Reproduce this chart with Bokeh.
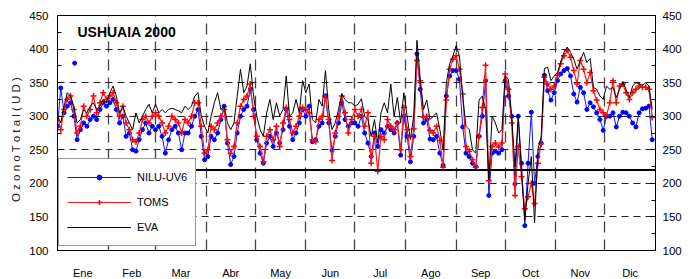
from bokeh.plotting import figure
from bokeh.models import FixedTicker, LinearAxis, Span, Label, Legend, LegendItem, ColumnDataSource
from bokeh.embed import file_html
from bokeh.resources import INLINE

month_names = ["Ene", "Feb", "Mar", "Abr", "May", "Jun", "Jul", "Ago", "Sep", "Oct", "Nov", "Dic"]
month_days = [31, 29, 31, 30, 31, 30, 31, 31, 30, 31, 30, 31]
y_ticks = [100, 150, 200, 250, 300, 350, 400, 450]
y_minor = [125, 175, 225, 275, 325, 375, 425]
threshold = 220

days = list(range(0, 366, 2))

nilu = [
    285, 342, 305, 315, 320, 300, 265, 280, 290, 285, 295, 300, 295, 310, 320, 315,
    320, 325, 310, 290, 300, 270, 275, 250, 248, 265, 280, 290, 275, 285,
    280, 285, 270, 245, 265, 280, 285, 275, 250, 275, 275, 285, 300, 310, 270, 235,
    240, 270, 265, 275, 295, 315, 260, 228, 240, 275, 300, 310, 315, 340, 310,
    265, 245, 230, 260, 270, 255, 275, 260, 280, 310, 285, 265, 275, 290, 310,
    300, 315, 262, 265, 285, 290, 330, 290, 249, 270, 290, 320, 295, 285, 290,
    290, 285, 300, 275, 260, 240, 275, 255, 280, 275, 285, 280, 275, 290, 242, 300,
    270, 232, 270, 393, 340, 290, 295, 266, 265, 270, 245, 227, 330, 360, 368,
    368, 355, 284, 245, 240, 230, 225, 270, 300, 353, 182, 245, 248, 245, 250,
    353, 330, 300, 199, 300, 230, 137, 230, 306, 200, 240, 260, 361, 338, 324, 335,
    353, 363, 368, 371, 360, 333, 321, 343, 335, 310, 320, 314, 305, 295, 279,
    300, 300, 305, 284, 300, 306, 305, 300, 290, 284, 305, 311, 312, 315, 265,
]
nilu_extra_day = [10.5]
nilu_extra_val = [379]

toms = [
    300, 280, 310, 325, 330, 310, 275, 285, 315, 300, 310, 330, 305, 320, 335, 325,
    330, 335, 320, 300, 315, 290, 280, 265, 262, 275, 295, 300, 290, 300,
    305, 300, 290, 275, 285, 300, 295, 290, 275, 295, 290, 300, 320, 320, 285, 245,
    250, 285, 280, 290, 300, 310, 265, 245, 255, 290, 315, 325, 330, 348, 300,
    270, 255, 232, 270, 280, 265, 285, 255, 290, 313, 295, 275, 285, 300, 313,
    310, 305, 265, 262, 295, 300, 330, 295, 234, 275, 300, 330, 305, 275, 295,
    310, 300, 310, 285, 305, 230, 270, 218, 270, 265, 295, 285, 280, 290, 250, 313,
    280, 240, 281, 383, 353, 299, 300, 279, 275, 285, 264, 224, 324, 370, 385,
    390, 370, 333, 255, 248, 235, 224, 270, 313, 376, 204, 255, 260, 254, 260,
    363, 340, 290, 182, 255, 210, 162, 180, 200, 170, 230, 259, 358, 348, 340, 345,
    361, 378, 390, 398, 388, 368, 348, 383, 370, 350, 365, 338, 324, 310, 305,
    301, 320, 353, 320, 345, 348, 335, 325, 335, 340, 345, 343, 343, 340, 298,
]

eva = [
    300, 290, 315, 335, 330, 315, 290, 295, 310, 305, 315, 320, 310, 315, 325, 320,
    335, 345, 330, 305, 315, 300, 290, 280, 305, 290, 300, 310, 318, 305,
    318, 305, 310, 305, 310, 312, 310, 308, 305, 315, 310, 315, 330, 335, 300, 285,
    275, 300, 320, 335, 310, 315, 290, 280, 290, 330, 370, 335, 345, 378, 330,
    300, 280, 270, 305, 325, 295, 320, 300, 310, 360, 300, 305, 325, 305, 353,
    335, 348, 295, 290, 325, 315, 368, 310, 280, 290, 310, 333, 325, 320, 320,
    315, 318, 326, 300, 295, 270, 295, 260, 305, 320, 305, 348, 300, 328, 290, 335,
    300, 265, 300, 413, 355, 310, 324, 295, 300, 305, 280, 250, 350, 378, 390,
    405, 390, 330, 285, 280, 250, 245, 324, 330, 310, 205, 300, 290, 275, 280,
    360, 355, 300, 224, 300, 215, 145, 200, 240, 141, 250, 269, 371, 373, 353, 360,
    365, 381, 395, 403, 395, 385, 370, 383, 395, 380, 386, 343, 340, 330, 325,
    345, 340, 343, 328, 340, 351, 340, 328, 345, 350, 348, 346, 350, 345, 310,
]

title_text = "USHUAIA 2000"
y_label = "O z o n o   T o t a l   ( U D )"

FONT = "Liberation Sans"

bounds = [0]
for m in month_days:
    bounds.append(bounds[-1] + m)
centers = [(bounds[i] + bounds[i + 1]) / 2 for i in range(12)]

src = ColumnDataSource(dict(day=days, nilu=nilu, toms=toms, eva=eva))

p = figure(frame_width=598, frame_height=235, x_range=(0, 366), y_range=(100, 450),
           output_backend="svg", toolbar_location=None,
           min_border_left=57, min_border_right=35, min_border_top=15, min_border_bottom=25)
p.background_fill_color = "white"
p.outline_line_color = "black"
p.outline_line_width = 1

# x axis with month names centred in each month
p.xaxis.ticker = FixedTicker(ticks=centers)
p.xaxis.major_label_overrides = {c: n for c, n in zip(centers, month_names)}
p.xaxis.major_tick_line_color = None
p.xaxis.minor_tick_line_color = None
p.xaxis.axis_line_color = "black"
p.xaxis.major_label_standoff = 10
p.xaxis.major_label_text_font = FONT
p.xaxis.major_label_text_font_size = "11px"
p.xaxis.major_label_text_color = "black"

# y axes
p.yaxis.ticker = FixedTicker(ticks=y_ticks, minor_ticks=y_minor)
p.yaxis.axis_label = y_label
p.yaxis.axis_label_text_font = FONT
p.yaxis.axis_label_text_font_style = "normal"
p.yaxis.axis_label_text_font_size = "11.5px"
p.yaxis.axis_label_text_color = "#222222"
p.yaxis.axis_label_standoff = 4
for ax in [p.yaxis[0]]:
    ax.major_tick_in = 5
    ax.major_tick_out = 0
    ax.minor_tick_in = 4
    ax.minor_tick_out = 0
    ax.major_label_standoff = 9
    ax.major_label_text_font = FONT
    ax.major_label_text_font_size = "11.5px"
    ax.major_label_text_color = "black"
    ax.axis_line_color = "black"

ry = LinearAxis(ticker=FixedTicker(ticks=y_ticks, minor_ticks=y_minor),
                major_tick_in=5, major_tick_out=0, minor_tick_in=4, minor_tick_out=0,
                major_label_standoff=7, major_label_text_font=FONT,
                major_label_text_font_size="11.5px", major_label_text_color="black",
                axis_line_color="black")
p.add_layout(ry, "right")

# grids
p.xgrid.ticker = FixedTicker(ticks=bounds[1:-1])
p.xgrid.grid_line_color = "#444444"
p.xgrid.grid_line_width = 1.3
p.xgrid.grid_line_dash = "11 7"
p.ygrid.ticker = FixedTicker(ticks=y_ticks[1:-1])
p.ygrid.grid_line_color = "#222222"
p.ygrid.grid_line_width = 1
p.ygrid.grid_line_dash = "7 5"

# series
ln_n = p.line("day", "nilu", source=src, line_color="#1010ff", line_width=1)
sc_n = p.scatter("day", "nilu", source=src, marker="circle", size=4,
                 fill_color="#0000ff", line_color="#0000ff")
p.scatter(nilu_extra_day, nilu_extra_val, marker="circle", size=4,
          fill_color="#0000ff", line_color="#0000ff")
ln_t = p.line("day", "toms", source=src, line_color="#ff1a1a", line_width=1.2)
sc_t = p.scatter("day", "toms", source=src, marker="cross", size=6,
                 line_color="#ff0000", line_width=1.5)
ln_e = p.line("day", "eva", source=src, line_color="black", line_width=1)

p.add_layout(Span(location=threshold, dimension="width", line_color="black", line_width=2))

p.add_layout(Label(x=12.2, y=425, text=title_text, text_font=FONT,
                   text_font_style="bold", text_font_size="14px", text_baseline="middle",
                   text_color="black"))

legend = Legend(items=[
    LegendItem(label="NILU-UV6", renderers=[ln_n, sc_n]),
    LegendItem(label="TOMS", renderers=[ln_t, sc_t]),
    LegendItem(label="EVA", renderers=[ln_e]),
], location=(1, 4))
legend.margin = 0
legend.padding = 8
legend.spacing = 5
legend.glyph_width = 64
legend.glyph_height = 12
legend.label_height = 20
legend.label_standoff = 6
legend.label_width = 40
legend.label_text_font = FONT
legend.label_text_font_size = "11px"
legend.label_text_color = "black"
legend.border_line_color = "#333333"
legend.border_line_width = 1
legend.background_fill_alpha = 1
p.add_layout(legend, "center")

open("out.html", "w").write(file_html(p, INLINE))
